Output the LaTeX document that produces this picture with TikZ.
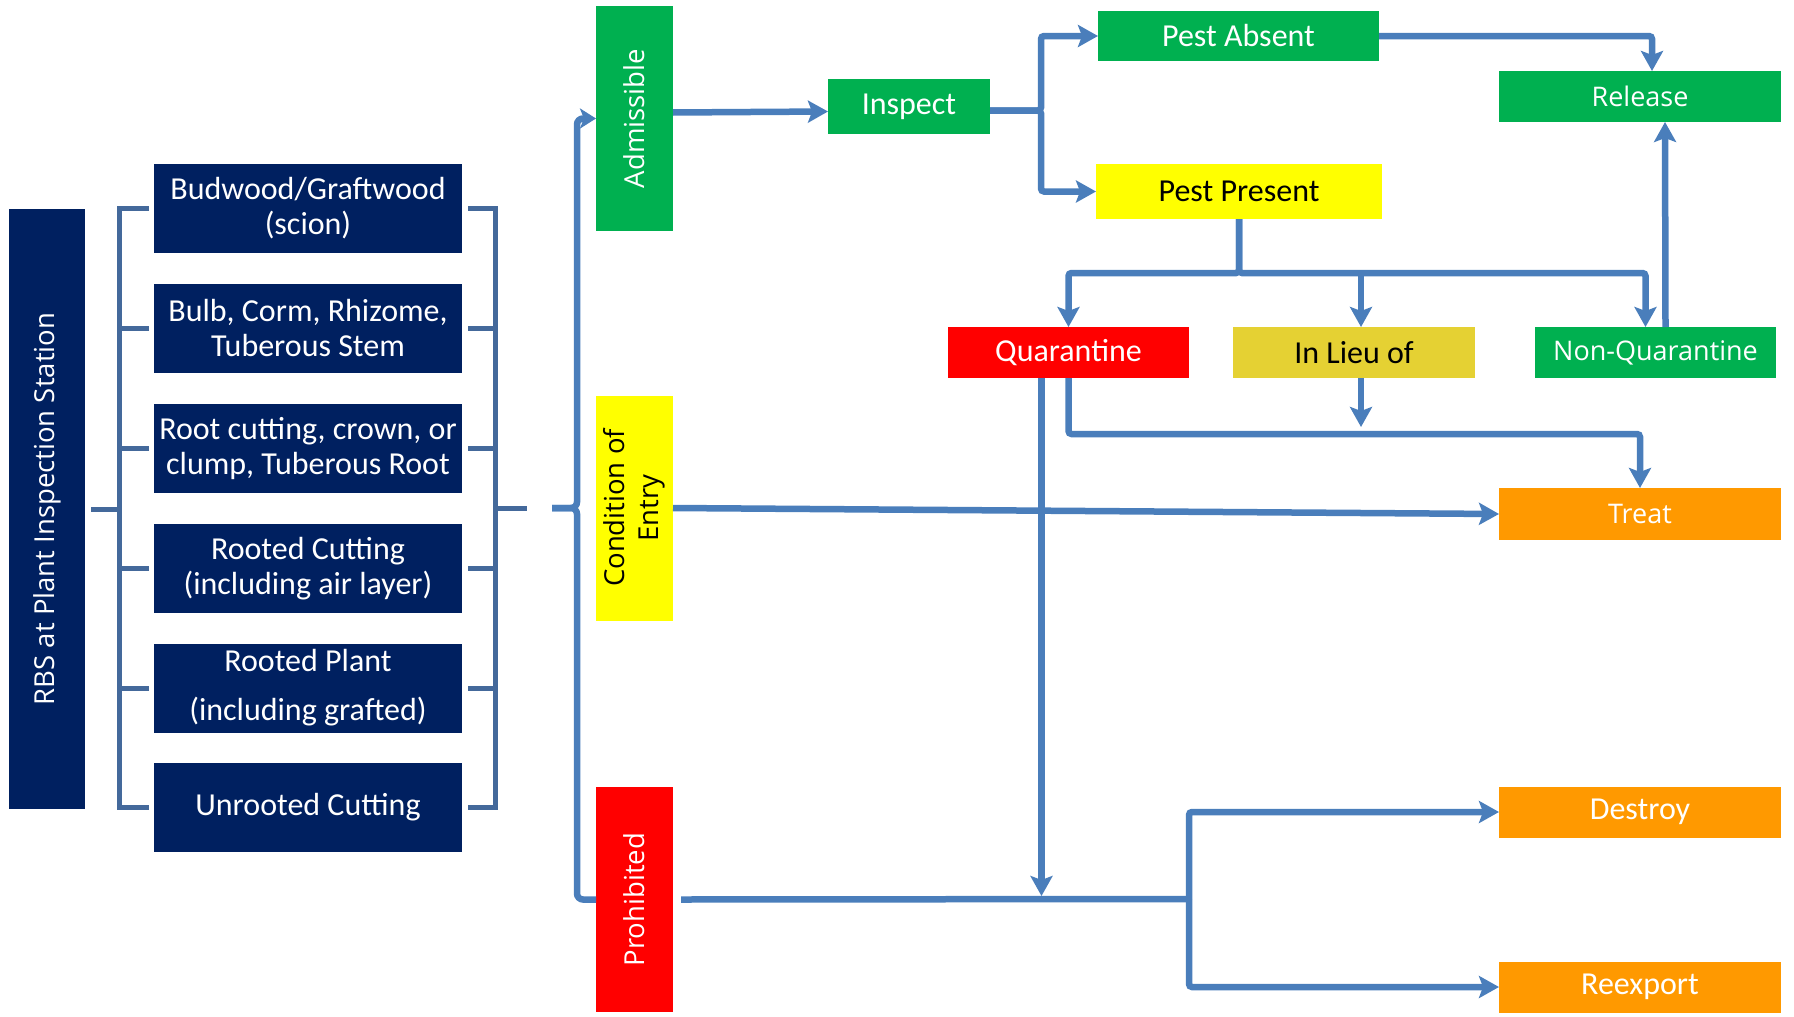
\documentclass[tikz,border=0pt]{standalone}
\usepackage{fontspec}
\setmainfont{Carlito}
\newfontfamily\opensans{Open Sans}
\usetikzlibrary{arrows.meta}

\definecolor{navy}{HTML}{002060}
\definecolor{okgreen}{HTML}{00B050}
\definecolor{sunyellow}{HTML}{FFFF00}
\definecolor{alarmred}{HTML}{FF0000}
\definecolor{treatorange}{HTML}{FF9900}
\definecolor{lieuyellow}{HTML}{E5D133}
\definecolor{linkblue}{HTML}{4A7EBB}
\definecolor{bracketblue}{HTML}{44699B}

\tikzset{
  box/.style={inner sep=0pt, outer sep=0pt, align=center, font=\fontsize{32}{35}\selectfont},
  osfont/.style={font=\opensans\fontsize{27}{32}\selectfont},
  itembox/.style={box, fill=navy, text=white, minimum width=308pt, minimum height=89pt},
  sidebox/.style={box, rotate=90, minimum width=225pt, minimum height=77pt, font=\opensans\fontsize{27.5}{34}\selectfont},
  greenbox/.style={box, fill=okgreen, text=white},
  orangebox/.style={box, fill=treatorange, text=white, minimum width=282pt, minimum height=51pt},
  link/.style={draw=linkblue, line width=6.5pt},
  flow/.style={link, -{Stealth[length=20pt,width=22pt,inset=4pt]}},
  bracket/.style={draw=bracketblue, line width=5pt}
}

\begin{document}
\begin{tikzpicture}[x=1pt,y=-1pt]
\useasboundingbox (0,0) rectangle (1794,1017);

% plant material
\node[sidebox, fill=navy, text=white, minimum width=600pt, minimum height=76pt] (rbs) at (47,509) {RBS at Plant Inspection Station};
\node[itembox] (budwood) at (308,208.5) {Budwood/Graftwood\\(scion)};
\node[itembox] (bulb) at (308,328.5) {Bulb, Corm, Rhizome,\\Tuberous Stem};
\node[itembox] (rootcut) at (308,448.5) {Root cutting, crown, or\\clump, Tuberous Root};
\node[itembox] (rootedcut) at (308,568.5) {Rooted Cutting\\(including air layer)};
\node[itembox] (rootedplant) at (308,688) {Rooted Plant\\[14pt](including grafted)};
\node[itembox] (unrooted) at (308,807.5) {Unrooted Cutting};

% status
\node[sidebox, fill=okgreen, text=white] (adm) at (634.5,118.5) {Admissible};
\node[sidebox, fill=sunyellow] (cond) at (634.5,508) {Condition of\\Entry};
\node[sidebox, fill=alarmred, text=white] (prh) at (634.5,899.5) {Prohibited};

% actions
\node[greenbox, minimum width=162pt, minimum height=55pt] (insp) at (909,106.5) {Inspect};
\node[greenbox, minimum width=281pt, minimum height=50pt] (pabs) at (1238.5,36) {Pest Absent};
\node[box, fill=sunyellow, minimum width=286pt, minimum height=55pt] (ppres) at (1239,191.5) {Pest Present};
\node[greenbox, osfont, minimum width=282pt, minimum height=51pt] (rel) at (1640,96.5) {Release};
\node[box, fill=alarmred, text=white, minimum width=241pt, minimum height=51pt] (quar) at (1068.5,352.5) {Quarantine};
\node[box, fill=lieuyellow, minimum width=242pt, minimum height=51pt] (lieu) at (1354,352.5) {In Lieu of};
\node[greenbox, osfont, minimum width=241pt, minimum height=51pt] (nonq) at (1655.5,352.5) {Non-Quarantine};
\node[orangebox, osfont, minimum height=52pt] (treat) at (1640,514) {Treat};
\node[orangebox] (destroy) at (1640,812) {Destroy};
\node[orangebox] (reexp) at (1640,987) {Reexport};

\coordinate (tip) at (552,508);
\coordinate (fork) at (1189,899);

% brackets
\draw[bracket] ([xshift=-5pt]budwood.west) -- ++(-30,0) |- ([xshift=-5pt]unrooted.west);
\draw[bracket] ([xshift=-5pt]bulb.west) -- ++(-30,0);
\draw[bracket] ([xshift=-5pt]rootcut.west) -- ++(-30,0);
\draw[bracket] ([xshift=-5pt]rootedcut.west) -- ++(-30,0);
\draw[bracket] ([xshift=-5pt]rootedplant.west) -- ++(-30,0);
\draw[bracket] (rbs.south) ++(6,0) -- ++(28,0);
\draw[bracket] ([xshift=6pt]budwood.east) -- ++(27,0) |- ([xshift=6pt]unrooted.east);
\draw[bracket] ([xshift=6pt]bulb.east) -- ++(27,0);
\draw[bracket] ([xshift=6pt]rootcut.east) -- ++(27,0);
\draw[bracket] ([xshift=6pt]rootedcut.east) -- ++(27,0);
\draw[bracket] ([xshift=6pt]rootedplant.east) -- ++(27,0);
\draw[bracket] ([xshift=-57pt]tip) -- ++(32,0);

% brace
\draw[link, rounded corners=6pt, -{Stealth[length=16pt,width=20pt,inset=4pt]}] (tip) -| ([xshift=-19pt]adm.north) -- (adm.north);
\draw[link, rounded corners=6pt] (tip) -| ([xshift=-19pt]prh.north) -- (prh.north);

% admissible
\draw[flow] ([yshift=6pt]adm.south) -- ([yshift=-5pt]insp.west);
\draw[flow, rounded corners=3pt] ([yshift=-4pt]insp.east) -| ([xshift=-57pt]pabs.west) -- (pabs.west);
\draw[flow, rounded corners=3pt] ([yshift=-4pt]insp.east) -| ([xshift=-55pt]ppres.west) -- (ppres.west);
\draw[flow, rounded corners=3pt] (pabs.east) -| ([xshift=12pt]rel.north);
\draw[flow, rounded corners=3pt] (ppres.south) |- ([yshift=54pt]quar.north) -- (quar.north);
\draw[flow, rounded corners=3pt] (ppres.south) |- ([xshift=-10pt,yshift=54pt]nonq.north) -- ([xshift=-10pt]nonq.north);
\draw[flow] ([xshift=7pt,yshift=54pt]lieu.north) -- ([xshift=7pt]lieu.north);
\draw[flow] ([xshift=10pt]nonq.north) -- ([xshift=25pt]rel.south);
\draw[flow, rounded corners=3pt] (quar.south) |- ([yshift=54pt]treat.north) -- (treat.north);
\draw[flow] ([xshift=7pt]lieu.south) -- ++(0,49);
\draw[flow] ([xshift=-27pt]quar.south) -- ++(0,518);

% condition of entry
\draw[flow] (cond.south) -- (treat.west);

% prohibited
\draw[link] ([xshift=8pt]prh.south) -- (fork);
\draw[flow, rounded corners=3pt] (fork) |- (destroy.west);
\draw[flow, rounded corners=3pt] (fork) |- (reexp.west);
\end{tikzpicture}
\end{document}
